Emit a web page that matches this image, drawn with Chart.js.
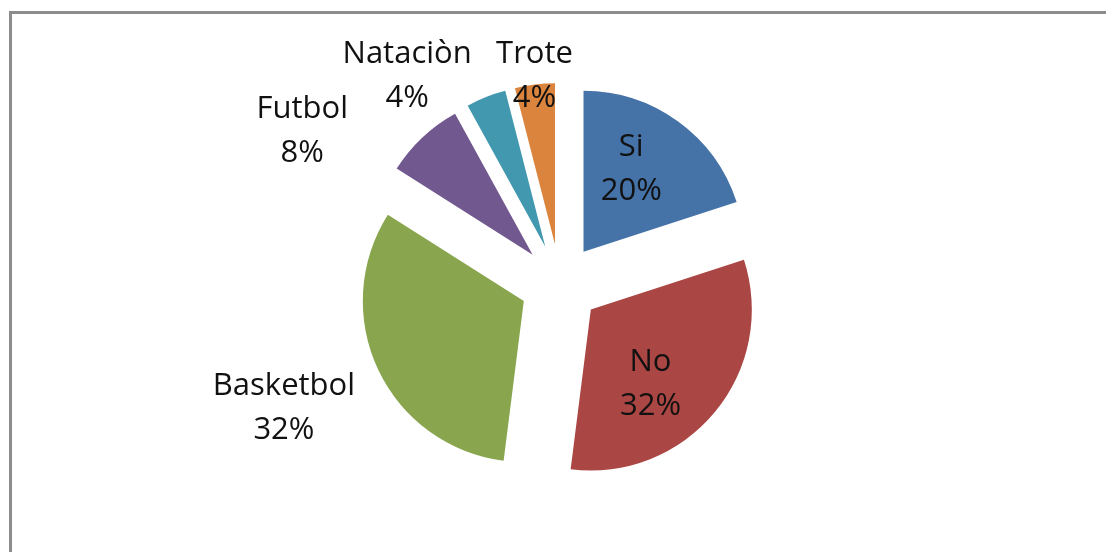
<!DOCTYPE html>
<html>
<head>
<meta charset="utf-8">
<script src="https://cdn.jsdelivr.net/npm/chart.js@4"></script>
<style>
body{margin:0;background:#fff;overflow:hidden}
#frame{position:absolute;left:9px;top:11px;width:1120px;height:600px;border:3px solid #8c8c8c}
#wrap{position:absolute;left:0;top:0;width:1106px;height:552px}
</style>
</head>
<body>
<div id="frame"></div>
<div id="wrap"><canvas id="myChart" width="1106" height="552"></canvas></div>
<script>
// datos
var categorias=["Si","No","Basketbol","Futbol","Nataciòn","Trote"];
var porcentajes=[20,32,32,8,4,4];
var colores=['#4572A7','#AA4643','#89A54E','#71588F','#4198AF','#DB843D'];

// posicion de etiquetas: angulo (grados, desde arriba) y distancia (x radio)
var etqAngulo=[31.8,138.0,245.8,300.6,323.6,353.0];
var etqDist=[0.84,0.84,1.88,1.86,1.60,1.30];
var separacion=40;

var ctx=document.getElementById("myChart").getContext('2d');

var explotar={
id:'explotar',
beforeDatasetsDraw:function(chart){
var area=chart.chartArea;
var cx=(area.left+area.right)/2, cy=(area.top+area.bottom)/2;
chart.getDatasetMeta(0).data.forEach(function(arc){
var mid=(arc.startAngle+arc.endAngle)/2;
arc.x=cx+Math.cos(mid)*separacion;
arc.y=cy+Math.sin(mid)*separacion;
});
},
afterDatasetsDraw:function(chart){
var area=chart.chartArea;
var cx=(area.left+area.right)/2, cy=(area.top+area.bottom)/2;
var c=chart.ctx;
var meta=chart.getDatasetMeta(0);
c.save();
c.font='31px "Open Sans"';
c.fillStyle='#111';
c.textAlign='center';
c.textBaseline='middle';
meta.data.forEach(function(arc,i){
var r=arc.outerRadius*etqDist[i];
var a=etqAngulo[i]*Math.PI/180;
var x=cx+Math.sin(a)*r, y=cy-Math.cos(a)*r;
c.fillText(categorias[i],x,y-22);
c.fillText(porcentajes[i]+'%',x,y+22);
});
c.restore();
}
};

var chart=new Chart(ctx,{
type:'pie',
data:{
labels:categorias,
datasets:[{
data:porcentajes,
backgroundColor:colores,
borderWidth:0
}]
},
options:{
responsive:false,
animation:false,
radius:161,
layout:{padding:{left:14,top:16,right:0,bottom:0}},
plugins:{legend:{display:false},tooltip:{enabled:false}}
},
plugins:[explotar]
});
</script>
</body>
</html>
